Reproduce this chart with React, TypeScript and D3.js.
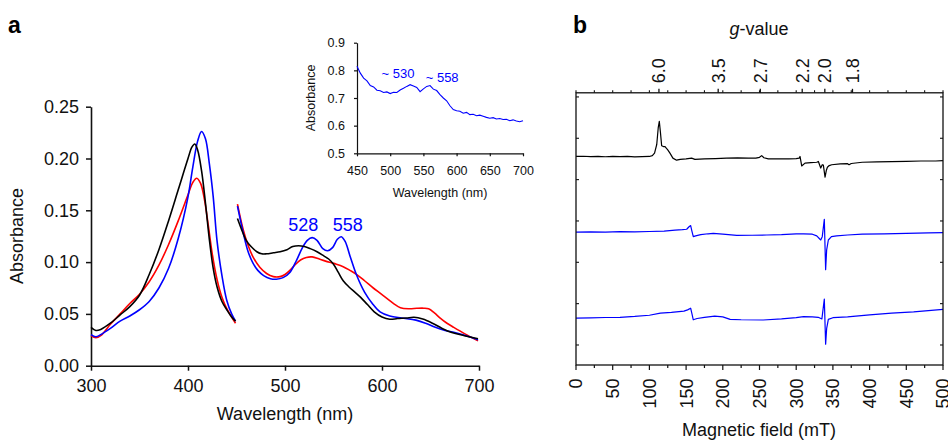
import React, { useEffect, useRef } from 'react';
import * as d3 from 'd3';

// ---- panel a: UV-vis spectra, Soret region (300-450 nm) ----
const soretWlBlack = [300, 305, 310, 320, 330, 340, 350, 360, 370, 380, 390, 400, 404, 407, 410, 414, 418, 422, 426, 430, 435, 440, 445, 449];
const soretAbsBlack = [0.037, 0.034, 0.035, 0.041, 0.049, 0.057, 0.068, 0.088, 0.112, 0.140, 0.170, 0.200, 0.211, 0.214, 0.208, 0.188, 0.157, 0.122, 0.094, 0.076, 0.062, 0.054, 0.047, 0.043];
const soretWlRed = [300, 305, 310, 320, 330, 340, 350, 360, 370, 380, 390, 400, 405, 409, 413, 417, 421, 425, 430, 435, 440, 445, 449];
const soretAbsRed = [0.029, 0.027, 0.029, 0.040, 0.050, 0.060, 0.069, 0.081, 0.097, 0.117, 0.140, 0.165, 0.177, 0.181, 0.176, 0.160, 0.135, 0.108, 0.083, 0.066, 0.055, 0.047, 0.041];
const soretWlBlue = [300, 305, 310, 320, 330, 340, 350, 360, 370, 380, 390, 400, 405, 410, 414, 418, 422, 426, 430, 435, 440, 445, 449];
const soretAbsBlue = [0.030, 0.028, 0.030, 0.036, 0.043, 0.048, 0.054, 0.062, 0.075, 0.094, 0.123, 0.163, 0.192, 0.217, 0.226, 0.219, 0.195, 0.163, 0.120, 0.087, 0.063, 0.050, 0.043];

// ---- panel a: Q-band region (450-700 nm) ----
const qWlBlack = [451, 455, 460, 465, 471, 476, 481, 488, 495, 502, 508, 514, 520, 526, 533, 540, 545, 550, 555, 560, 566, 572, 578, 585, 592, 600, 608, 616, 625, 633, 642, 652, 662, 672, 685, 699];
const qAbsBlack = [0.142, 0.132, 0.121, 0.115, 0.110, 0.108, 0.108, 0.109, 0.110, 0.112, 0.115, 0.1158, 0.115, 0.113, 0.110, 0.106, 0.103, 0.098, 0.090, 0.082, 0.076, 0.071, 0.066, 0.059, 0.052, 0.047, 0.0448, 0.0455, 0.046, 0.0467, 0.045, 0.041, 0.036, 0.032, 0.029, 0.026];
const qWlRed = [451, 457, 462, 467, 474, 481, 488, 495, 500, 505, 510, 516, 522, 528, 536, 546, 553, 560, 567, 574, 582, 591, 598, 605, 612, 619, 628, 636, 643, 648, 654, 660, 667, 674, 685, 699];
const qAbsRed = [0.156, 0.131, 0.116, 0.105, 0.095, 0.089, 0.086, 0.086, 0.088, 0.092, 0.097, 0.102, 0.1045, 0.105, 0.1027, 0.0998, 0.098, 0.0956, 0.092, 0.088, 0.082, 0.075, 0.070, 0.065, 0.060, 0.056, 0.055, 0.0554, 0.0555, 0.055, 0.051, 0.046, 0.041, 0.037, 0.031, 0.024];
const qWlBlue = [451, 457, 462, 467, 472, 478, 485, 491, 498, 505, 512, 518, 523, 528, 533, 539, 544, 549, 554, 558, 562, 567, 574, 582, 590, 598, 608, 620, 635, 645, 655, 665, 675, 690, 699];
const qAbsBlue = [0.154, 0.128, 0.110, 0.099, 0.092, 0.087, 0.084, 0.0835, 0.085, 0.090, 0.102, 0.114, 0.121, 0.1236, 0.121, 0.113, 0.111, 0.114, 0.122, 0.1245, 0.120, 0.106, 0.087, 0.071, 0.060, 0.052, 0.048, 0.046, 0.044, 0.041, 0.037, 0.034, 0.032, 0.028, 0.025];

const peakLabels = [528, 558];
const peakLabelAbs = 0.130;

// ---- inset ----
const insetWl = [450, 455, 460, 465, 470, 475, 480, 485, 490, 495, 500, 505, 510, 515, 520, 525, 530, 535, 540, 545, 550, 555, 560, 565, 570, 575, 580, 585, 590, 595, 600, 605, 610, 615, 620, 625, 630, 635, 640, 645, 650, 655, 660, 665, 670, 675, 680, 685, 690, 695, 700];
const insetAbs = [0.815, 0.790, 0.772, 0.762, 0.745, 0.740, 0.728, 0.726, 0.720, 0.722, 0.716, 0.721, 0.720, 0.729, 0.735, 0.742, 0.748, 0.743, 0.738, 0.723, 0.733, 0.742, 0.745, 0.732, 0.727, 0.712, 0.700, 0.690, 0.672, 0.658, 0.654, 0.652, 0.645, 0.648, 0.640, 0.641, 0.636, 0.638, 0.634, 0.630, 0.627, 0.629, 0.624, 0.626, 0.622, 0.623, 0.618, 0.621, 0.617, 0.614, 0.618];
const insetPeaks = [530, 558];

// ---- panel b: EPR traces (field in mT, intensity in offset units) ----
const eprFieldBlack = [0, 10, 20, 30, 40, 50, 60, 70, 80, 90, 100, 104, 107, 110, 112, 113.5, 115, 116.7, 119, 121.3, 123, 125, 128, 132, 137, 142, 150, 157.5, 162, 175, 190, 205, 220, 235, 245, 250, 253, 256, 262, 275, 290, 300, 304, 305.2, 307.5, 312, 320, 328, 330.2, 333.4, 335.5, 337, 339.3, 341, 342.5, 345, 348.4, 360, 370, 372, 375, 390, 410, 430, 450, 470, 490, 500];
const eprSignalBlack = [4.56, 4.565, 4.555, 4.56, 4.553, 4.56, 4.555, 4.56, 4.552, 4.558, 4.56, 4.58, 4.64, 4.85, 5.25, 5.41, 5.15, 4.82, 4.80, 4.80, 4.76, 4.72, 4.64, 4.52, 4.47, 4.49, 4.50, 4.52, 4.49, 4.50, 4.51, 4.52, 4.525, 4.52, 4.52, 4.54, 4.58, 4.53, 4.50, 4.505, 4.50, 4.51, 4.52, 4.56, 4.33, 4.40, 4.41, 4.42, 4.44, 4.28, 4.36, 4.35, 4.06, 4.22, 4.30, 4.34, 4.36, 4.38, 4.385, 4.36, 4.39, 4.42, 4.43, 4.435, 4.44, 4.45, 4.45, 4.46];
const eprFieldBlue1 = [0, 20, 40, 60, 80, 100, 120, 135, 145, 150.8, 154, 156.2, 158, 159.8, 163, 170, 180, 187, 200, 219, 240, 260, 280, 300, 310, 322, 328, 333.4, 335.5, 338.3, 340.1, 341.5, 343.8, 348, 355, 370, 390, 420, 450, 480, 500];
const eprSignalBlue1 = [2.73, 2.735, 2.73, 2.74, 2.735, 2.745, 2.755, 2.78, 2.79, 2.80, 2.86, 2.89, 2.75, 2.62, 2.64, 2.67, 2.69, 2.70, 2.68, 2.65, 2.655, 2.66, 2.67, 2.69, 2.69, 2.68, 2.64, 2.54, 2.62, 3.04, 1.82, 2.30, 2.54, 2.62, 2.64, 2.66, 2.68, 2.69, 2.70, 2.71, 2.72];
const eprFieldBlue2 = [0, 20, 40, 60, 80, 100, 115, 130, 147, 152, 156.2, 158, 159.8, 165, 175, 189, 200, 210, 225, 255, 280, 300, 310, 322, 330, 335, 338.3, 340.1, 341.5, 343.8, 350, 370, 400, 430, 460, 500];
const eprSignalBlue2 = [0.65, 0.655, 0.665, 0.67, 0.69, 0.72, 0.77, 0.79, 0.82, 0.85, 0.89, 0.75, 0.61, 0.64, 0.67, 0.70, 0.68, 0.62, 0.61, 0.605, 0.63, 0.66, 0.685, 0.68, 0.67, 0.63, 1.11, 0.02, 0.40, 0.62, 0.66, 0.68, 0.73, 0.77, 0.80, 0.86];

const gValueTicks = [6.0, 3.5, 2.7, 2.2, 2.0, 1.8];
const fieldTicks = d3.range(0, 501, 25);
const offsetTicks = [0, 1, 2, 3, 4, 5, 6];
const G_FIELD = 678; // mT * g at ~9.49 GHz

const FONT = "'Liberation Sans', Arial, Helvetica, sans-serif";

const App: React.FC = () => {
  const svgRef = useRef<SVGSVGElement>(null);

  useEffect(() => {
    if (!svgRef.current) return;
    const svg = d3.select(svgRef.current);
    svg.selectAll('*').remove();
    svg.style('font-family', FONT);

    // ================= panel a =================
    const xA = d3.scaleLinear().domain([300, 700]).range([91, 479]);
    const yA = d3.scaleLinear().domain([0, 0.25]).range([365.7, 106.7]);

    const gA = svg.append('g');

    const yAxisA = d3.axisLeft(yA)
      .tickValues([0, 0.05, 0.1, 0.15, 0.2, 0.25])
      .tickFormat(d3.format('.2f'))
      .tickSize(5).tickSizeOuter(0).tickPadding(7);
    const yAx = gA.append('g').attr('transform', `translate(${xA(300)},0)`).call(yAxisA);
    yAx.selectAll('text').style('font-size', '18px').style('fill', '#111');

    const xAxisA = d3.axisBottom(xA)
      .tickValues([300, 400, 500, 600, 700])
      .tickFormat(d3.format('d'))
      .tickSize(5).tickSizeOuter(0).tickPadding(9);
    const xAx = gA.append('g').attr('transform', `translate(0,${yA(0)})`).call(xAxisA);
    xAx.selectAll('text').style('font-size', '18px').style('fill', '#111');

    [yAx, xAx].forEach(ax => {
      ax.selectAll('path,line').attr('stroke', '#111').attr('stroke-width', 1.5);
      ax.select('.domain').attr('stroke-width', 1.6);
      ax.attr('font-family', FONT);
    });

    gA.append('text')
      .attr('transform', `translate(23,${236}) rotate(-90)`)
      .attr('text-anchor', 'middle')
      .style('font-size', '18px').style('fill', '#111')
      .text('Absorbance');
    gA.append('text')
      .attr('x', 285).attr('y', 420)
      .attr('text-anchor', 'middle')
      .style('font-size', '18px').style('fill', '#111')
      .text('Wavelength (nm)');

    const lineA = (wl: number[], abs: number[]) =>
      d3.line<number>()
        .x((_d, i) => xA(wl[i]))
        .y(d => yA(d))
        .curve(d3.curveCatmullRom.alpha(0.5))(abs) as string;

    const spectra = [
      { wl: soretWlRed, abs: soretAbsRed, color: '#ff0000' },
      { wl: soretWlBlue, abs: soretAbsBlue, color: '#0000ff' },
      { wl: soretWlBlack, abs: soretAbsBlack, color: '#000000' },
      { wl: qWlRed, abs: qAbsRed, color: '#ff0000' },
      { wl: qWlBlue, abs: qAbsBlue, color: '#0000ff' },
      { wl: qWlBlack, abs: qAbsBlack, color: '#000000' },
    ];
    spectra.forEach(s => {
      gA.append('path')
        .attr('d', lineA(s.wl, s.abs))
        .attr('fill', 'none')
        .attr('stroke', s.color)
        .attr('stroke-width', 1.6);
    });

    // labels sit a little to the outside of each peak
    const peakDx = [-9, 6.5];
    gA.selectAll('.peak-label')
      .data(peakLabels)
      .enter().append('text')
      .attr('x', (d, i) => xA(d) + peakDx[i])
      .attr('y', yA(peakLabelAbs))
      .attr('text-anchor', 'middle')
      .style('font-size', '18px')
      .style('fill', '#0000ff')
      .text(d => `${d}`);

    // ---- inset ----
    const xI = d3.scaleLinear().domain([450, 700]).range([357, 523]);
    const yI = d3.scaleLinear().domain([0.5, 0.9]).range([153.3, 42.7]);
    const gI = svg.append('g');

    const yAxisI = d3.axisLeft(yI)
      .tickValues([0.5, 0.6, 0.7, 0.8, 0.9])
      .tickFormat(d3.format('.1f'))
      .tickSize(3).tickSizeOuter(0).tickPadding(9);
    const yIx = gI.append('g').attr('transform', `translate(${xI(450)},0)`).call(yAxisI);
    const xAxisI = d3.axisBottom(xI)
      .tickValues([450, 500, 550, 600, 650, 700])
      .tickFormat(d3.format('d'))
      .tickSize(3).tickSizeOuter(0).tickPadding(10);
    const xIx = gI.append('g').attr('transform', `translate(0,${yI(0.5)})`).call(xAxisI);
    [yIx, xIx].forEach(ax => {
      ax.selectAll('text').style('font-size', '12.5px').style('fill', '#111');
      ax.selectAll('path,line').attr('stroke', '#111').attr('stroke-width', 1.2);
      ax.attr('font-family', FONT);
    });

    gI.append('text')
      .attr('transform', `translate(315,98) rotate(-90)`)
      .attr('text-anchor', 'middle')
      .style('font-size', '12.5px').style('fill', '#111')
      .text('Absorbance');
    gI.append('text')
      .attr('x', 440).attr('y', 197)
      .attr('text-anchor', 'middle')
      .style('font-size', '12.5px').style('fill', '#111')
      .text('Wavelength (nm)');

    gI.append('path')
      .attr('d', d3.line<number>()
        .x((_d, i) => xI(insetWl[i]))
        .y(d => yI(d))(insetAbs) as string)
      .attr('fill', 'none')
      .attr('stroke', '#0000ff')
      .attr('stroke-width', 1.1);

    const insetDx = [-28.5, -3];
    const insetY = [78.3, 81.7];
    gI.selectAll('.inset-peak')
      .data(insetPeaks)
      .enter().append('text')
      .attr('x', (d, i) => xI(d) + insetDx[i])
      .attr('y', (_d, i) => insetY[i])
      .attr('text-anchor', 'start')
      .style('font-size', '13px')
      .style('fill', '#0000ff')
      .text(d => `~ ${d}`);

    // panel letters
    svg.append('text').attr('x', 8).attr('y', 33)
      .style('font-size', '23px').style('font-weight', 'bold').text('a');
    svg.append('text').attr('x', 573).attr('y', 33)
      .style('font-size', '23px').style('font-weight', 'bold').text('b');

    // ================= panel b =================
    const xB = d3.scaleLinear().domain([0, 500]).range([576, 943]);
    const yB = d3.scaleLinear().domain([-0.484, 6.1]).range([365, 92.8]);
    const gB = svg.append('g');
    const [bottomY, topY] = yB.range();

    // traces
    const traces = [
      { f: eprFieldBlack, s: eprSignalBlack, color: '#000000' },
      { f: eprFieldBlue1, s: eprSignalBlue1, color: '#0000ff' },
      { f: eprFieldBlue2, s: eprSignalBlue2, color: '#0000ff' },
    ];
    traces.forEach(t => {
      gB.append('path')
        .attr('d', d3.line<number>()
          .x((_d, i) => xB(t.f[i]))
          .y(d => yB(d))(t.s) as string)
        .attr('fill', 'none')
        .attr('stroke', t.color)
        .attr('stroke-width', 1.2)
        .attr('stroke-linejoin', 'round');
    });

    // frame
    gB.append('rect')
      .attr('x', xB(0)).attr('y', topY)
      .attr('width', xB(500) - xB(0))
      .attr('height', bottomY - topY)
      .attr('fill', 'none').attr('stroke', '#111').attr('stroke-width', 1.3);

    // bottom ticks
    gB.selectAll('.bt')
      .data(fieldTicks)
      .enter().append('line')
      .attr('x1', d => xB(d)).attr('x2', d => xB(d))
      .attr('y1', bottomY)
      .attr('y2', d => bottomY + (d % 50 === 0 ? 5 : 3))
      .attr('stroke', '#111').attr('stroke-width', 1.2);
    gB.selectAll('.bl')
      .data(fieldTicks.filter(d => d % 50 === 0))
      .enter().append('text')
      .attr('transform', d => `translate(${xB(d)},${bottomY + 13.5}) rotate(-90)`)
      .attr('text-anchor', 'end')
      .attr('dy', '0.36em')
      .style('font-size', '18px').style('fill', '#111')
      .text(d => `${d}`);

    // top minor ticks (field) and g-value ticks
    gB.selectAll('.tt')
      .data(fieldTicks)
      .enter().append('line')
      .attr('x1', d => xB(d)).attr('x2', d => xB(d))
      .attr('y1', topY)
      .attr('y2', topY - 2.5)
      .attr('stroke', '#111').attr('stroke-width', 1.1);
    gB.selectAll('.gt')
      .data(gValueTicks)
      .enter().append('line')
      .attr('x1', d => xB(G_FIELD / d)).attr('x2', d => xB(G_FIELD / d))
      .attr('y1', topY)
      .attr('y2', topY - 4)
      .attr('stroke', '#111').attr('stroke-width', 1.3);
    gB.selectAll('.gl')
      .data(gValueTicks)
      .enter().append('text')
      .attr('transform', d => `translate(${xB(G_FIELD / d)},${topY - 9.5}) rotate(-90)`)
      .attr('text-anchor', 'start')
      .attr('dy', '0.36em')
      .style('font-size', '18px').style('fill', '#111')
      .text(d => d.toFixed(1));

    // inner left/right ticks
    gB.selectAll('.lt')
      .data(offsetTicks)
      .enter().append('line')
      .attr('x1', xB(0)).attr('x2', xB(0) + 3)
      .attr('y1', d => yB(d)).attr('y2', d => yB(d))
      .attr('stroke', '#111').attr('stroke-width', 1.1);
    gB.selectAll('.rt')
      .data(offsetTicks)
      .enter().append('line')
      .attr('x1', xB(500)).attr('x2', xB(500) - 3)
      .attr('y1', d => yB(d)).attr('y2', d => yB(d))
      .attr('stroke', '#111').attr('stroke-width', 1.1);

    const gv = gB.append('text')
      .attr('x', 759).attr('y', 35)
      .attr('text-anchor', 'middle')
      .style('font-size', '18px').style('fill', '#111');
    gv.append('tspan').style('font-style', 'italic').text('g');
    gv.append('tspan').text('-value');

    gB.append('text')
      .attr('x', 759).attr('y', 436)
      .attr('text-anchor', 'middle')
      .style('font-size', '18px').style('fill', '#111')
      .text('Magnetic field (mT)');
  }, []);

  return (
    <svg
      ref={svgRef}
      width={948}
      height={441}
      style={{ position: 'absolute', left: 0, top: 0, background: '#fff' }}
    />
  );
};

export default App;
